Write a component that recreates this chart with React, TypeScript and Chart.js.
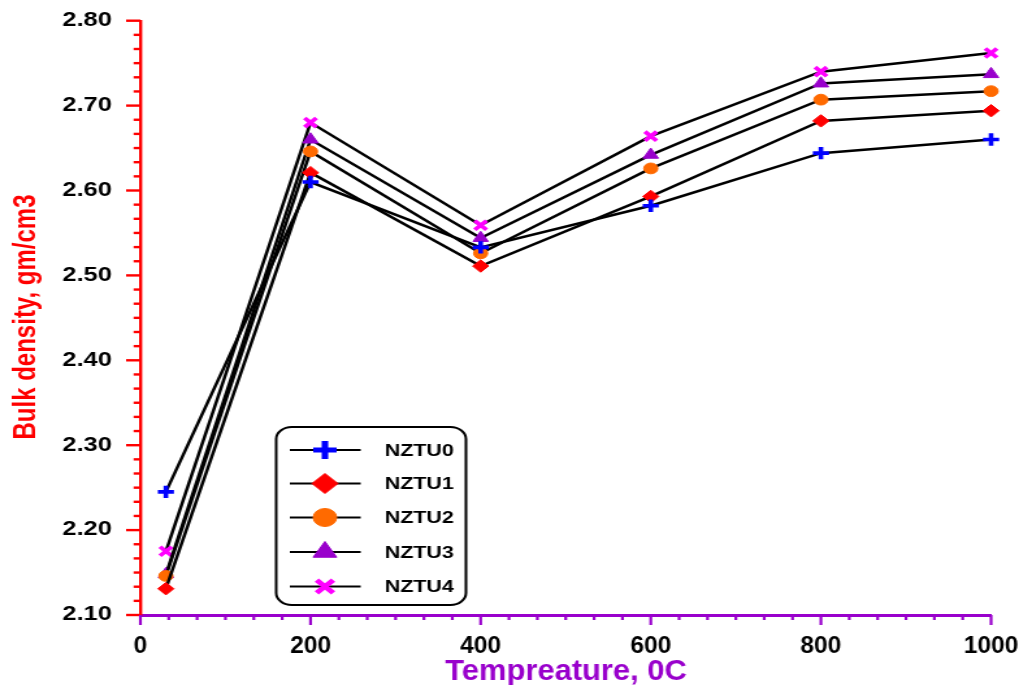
import React, { useEffect, useRef } from "react";
import { Chart, registerables } from "chart.js";
import { drawPoint } from "chart.js/helpers";

Chart.register(...registerables);

// The reference is a horizontally stretched plot: draw at base width, then stretch.
const FULL_W = 1019;
const FULL_H = 685;
const BASE_W = 784;
const STRETCH = FULL_W / BASE_W;

const temperatures = [30, 200, 400, 600, 800, 1000];
const seriesNames = ["NZTU0", "NZTU1", "NZTU2", "NZTU3", "NZTU4"];
const nztu0 = [2.245, 2.61, 2.533, 2.582, 2.644, 2.66];
const nztu1 = [2.131, 2.621, 2.511, 2.593, 2.682, 2.694];
const nztu2 = [2.146, 2.646, 2.526, 2.626, 2.707, 2.717];
const nztu3 = [2.148, 2.66, 2.544, 2.642, 2.726, 2.737];
const nztu4 = [2.175, 2.68, 2.559, 2.664, 2.74, 2.762];
const seriesValues = [nztu0, nztu1, nztu2, nztu3, nztu4];

const xTickLabels = [0, 200, 400, 600, 800, 1000];

const seriesColors = ["#0000FF", "#FF0000", "#FF6A00", "#9900CC", "#FF00FF"];
const seriesMarkers = ["cross", "rectRot", "circle", "triangle", "crossRot"];
const markerRadius = [6.2, 6.2, 5.4, 6.8, 6.4];
const markerBorder = [3.6, 1, 1, 1, 3.6];
const legendRadius = [9, 10, 9, 10.5, 9];
const legendBorder = [5, 1, 1, 1, 4.5];

const yMin = 2.1;
const yMax = 2.8;
const yStep = 0.1;
const xMin = 0;
const xMax = 1000;
const xStep = 200;
const minorPerMajor = 6;

const yAxisTitle = "Bulk density, gm/cm3";
const xAxisTitle = "Tempreature, 0C";

const Y_COLOR = "#FF0000";
const X_COLOR = "#9900CC";
const NARROW = 0.82;

const axisDecor = {
  id: "axisDecor",
  afterDraw(chart: any) {
    const { ctx, scales } = chart;
    const x = scales.x;
    const y = scales.y;
    ctx.save();
    // y ticks (left, outside)
    ctx.strokeStyle = Y_COLOR;
    ctx.lineWidth = 2.4;
    const nY = Math.round((yMax - yMin) / yStep) * minorPerMajor;
    for (let i = 0; i <= nY; i++) {
      const v = yMin + (i * yStep) / minorPerMajor;
      const py = y.getPixelForValue(v);
      const len = i % minorPerMajor === 0 ? 11 : 5.2;
      ctx.beginPath();
      ctx.moveTo(x.left - len, py);
      ctx.lineTo(x.left, py);
      ctx.stroke();
    }
    // x ticks (below, outside)
    ctx.strokeStyle = X_COLOR;
    ctx.lineWidth = 2.2;
    const nX = Math.round((xMax - xMin) / xStep) * minorPerMajor;
    for (let i = 0; i <= nX; i++) {
      const v = xMin + (i * xStep) / minorPerMajor;
      const px = x.getPixelForValue(v);
      const len = i % minorPerMajor === 0 ? 10 : 5;
      ctx.beginPath();
      ctx.moveTo(px, y.bottom);
      ctx.lineTo(px, y.bottom + len);
      ctx.stroke();
    }
    // x tick labels (narrow bold)
    ctx.fillStyle = "#000000";
    ctx.font = 'bold 23px "Liberation Sans", Arial, sans-serif';
    ctx.textAlign = "center";
    ctx.textBaseline = "middle";
    xTickLabels.forEach((v) => {
      ctx.save();
      ctx.translate(x.getPixelForValue(v), 647);
      ctx.scale(NARROW, 1);
      ctx.fillText(String(v), 0, 0);
      ctx.restore();
    });
    // axis titles
    ctx.fillStyle = Y_COLOR;
    ctx.font = 'bold 24px "Liberation Sans", Arial, sans-serif';
    ctx.save();
    ctx.translate(20, 317);
    ctx.rotate(-Math.PI / 2);
    ctx.fillText(yAxisTitle, 0, 0);
    ctx.restore();

    ctx.fillStyle = X_COLOR;
    ctx.font = 'bold 29px "Liberation Sans", Arial, sans-serif';
    ctx.save();
    ctx.translate(435.5, 672);
    ctx.scale(NARROW, 1);
    ctx.fillText(xAxisTitle, 0, 0);
    ctx.restore();

    // legend
    const bx = 212.5, by = 427, bw = 146, bh = 178;
    ctx.beginPath();
    ctx.roundRect(bx, by, bw, bh, 12);
    ctx.fillStyle = "#FFFFFF";
    ctx.fill();
    ctx.strokeStyle = "#000000";
    ctx.lineWidth = 2;
    ctx.stroke();
    const rowY = [450, 483.5, 517.5, 552, 586.5];
    seriesNames.forEach((name, i) => {
      const ry = rowY[i];
      ctx.strokeStyle = "#000000";
      ctx.lineWidth = 2.2;
      ctx.beginPath();
      ctx.moveTo(223, ry);
      ctx.lineTo(277.5, ry);
      ctx.stroke();
      ctx.fillStyle = seriesColors[i];
      ctx.strokeStyle = seriesColors[i];
      ctx.lineWidth = legendBorder[i];
      drawPoint(ctx, {
        pointStyle: seriesMarkers[i],
        radius: legendRadius[i],
        rotation: 0,
        borderWidth: legendBorder[i],
      } as any, 250, ry);
      ctx.fillStyle = "#000000";
      ctx.font = 'bold 16.5px "Liberation Sans", Arial, sans-serif';
      ctx.textAlign = "left";
      ctx.textBaseline = "middle";
      ctx.fillText(name, 296, ry + 1);
    });
    ctx.restore();
  },
};

export default function App() {
  const ref = useRef<HTMLCanvasElement | null>(null);
  useEffect(() => {
    if (!ref.current) return;
    const chart = new Chart(ref.current, {
      type: "line",
      data: {
        datasets: seriesNames.map((name, i) => ({
          label: name,
          data: temperatures.map((t, j) => ({ x: t, y: seriesValues[i][j] })),
          borderColor: "#000000",
          borderWidth: 2.5,
          pointStyle: seriesMarkers[i] as any,
          pointRadius: markerRadius[i],
          pointBackgroundColor: seriesColors[i],
          pointBorderColor: seriesColors[i],
          pointBorderWidth: markerBorder[i],
          fill: false,
          tension: 0,
          clip: false as any,
        })),
      },
      options: {
        animation: false,
        responsive: false,
        devicePixelRatio: 1,
        layout: { padding: { top: 20.7, right: 21.5, left: 0, bottom: 0 } },
        plugins: { legend: { display: false }, tooltip: { enabled: false } },
        scales: {
          x: {
            type: "linear",
            min: xMin,
            max: xMax,
            afterFit: (s: any) => { s.height = 70; s.paddingLeft = 0; s.paddingRight = 0; },
            ticks: { display: false, stepSize: xStep },
            grid: { display: false, drawTicks: false },
            border: { display: true, color: X_COLOR, width: 3 },
          },
          y: {
            type: "linear",
            min: yMin,
            max: yMax,
            afterFit: (s: any) => { s.width = 108; s.paddingTop = 0; s.paddingBottom = 0; },
            ticks: {
              stepSize: yStep,
              padding: 22,
              color: "#000000",
              callback: (v: any) => Number(v).toFixed(2),
              font: { family: '"Liberation Sans", Arial, sans-serif', weight: "bold", size: 19.5 },
            },
            grid: { display: false, drawTicks: false },
            border: { display: true, color: Y_COLOR, width: 2.4 },
          },
        },
      },
      plugins: [axisDecor],
    });
    return () => chart.destroy();
  }, []);
  return (
    <div style={{ position: "absolute", left: 0, top: 0, width: FULL_W, height: FULL_H, overflow: "hidden", background: "#FFFFFF" }}>
      <div style={{ width: BASE_W, height: FULL_H, transform: `scaleX(${STRETCH})`, transformOrigin: "0 0" }}>
        <canvas ref={ref} width={BASE_W} height={FULL_H} style={{ width: BASE_W, height: FULL_H, display: "block" }} />
      </div>
    </div>
  );
}
